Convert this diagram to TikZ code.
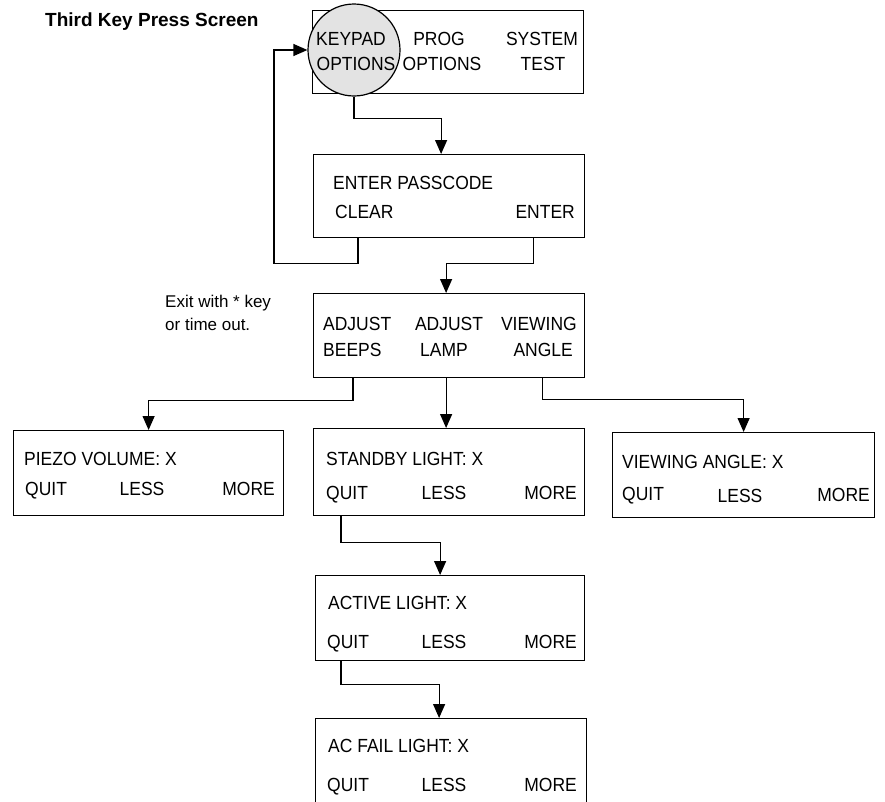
\documentclass[tikz,border=0pt]{standalone}
\usepackage{fontspec}
\setmainfont{Liberation Sans}
\newfontfamily\scrfont[FakeStretch=0.92]{Liberation Sans}
\usetikzlibrary{arrows.meta}
\begin{document}
\begin{tikzpicture}[x=1pt,y=-1pt,
  scr/.style={draw, line width=1.2pt, rectangle, anchor=north west, minimum width=271pt, minimum height=85pt, inner sep=0pt},
  lbl/.style={inner sep=0pt, font=\scrfont\fontsize{19}{22}\selectfont},
  arr/.style={line width=1.2pt, -{Triangle[length=14pt,width=12pt]}},
  ln/.style={line width=1.2pt}]
\useasboundingbox (0,0) rectangle (885,801);
% title and note
\node[inner sep=0pt, anchor=base west, font=\bfseries\fontsize{19}{22}\selectfont] (title) at (45,26) {Third Key Press Screen};
\node[inner sep=0pt, anchor=base west, font=\fontsize{17}{22}\selectfont] (note1) at (165,307) {Exit with * key};
\node[inner sep=0pt, anchor=base west, font=\fontsize{17}{22}\selectfont] (note2) at (165,330) {or time out.};
% top box
\node[scr, minimum height=83pt] (b1) at (312,10) {};
\node[circle, draw, line width=1.2pt, fill=gray!22, minimum size=92pt, inner sep=0pt] (circ) at (354,50) {};
\node[lbl, anchor=base] (k1) at (351,45) {KEYPAD};
\node[lbl, anchor=base] (k2) at (356,70) {OPTIONS};
\node[lbl, anchor=base] (p1) at (439,45) {PROG};
\node[lbl, anchor=base] (p2) at (442,70) {OPTIONS};
\node[lbl, anchor=base] (s1) at (542,45) {SYSTEM};
\node[lbl, anchor=base] (s2) at (543,70) {TEST};
% passcode box
\node[scr, minimum height=83pt] (b2) at (313,154) {};
\node[lbl, anchor=base west] (e1) at (333,189) {ENTER PASSCODE};
\node[lbl, anchor=base west] (e2) at (335,218) {CLEAR};
\node[lbl, anchor=base east] (e3) at (575,218) {ENTER};
% adjust box
\node[scr, minimum height=84pt] (b3) at (313,293) {};
\node[lbl, anchor=base west] (a1) at (323,330) {ADJUST};
\node[lbl, anchor=base west] (a2) at (323,356) {BEEPS};
\node[lbl, anchor=base] (a3) at (449,330) {ADJUST};
\node[lbl, anchor=base] (a4) at (444,356) {LAMP};
\node[lbl, anchor=base east] (a5) at (577,330) {VIEWING};
\node[lbl, anchor=base east] (a6) at (573,356) {ANGLE};
% piezo
\node[scr, minimum width=270pt] (piezo) at (13,430) {};
\node[lbl, anchor=base west] (pz1) at (24,465) {PIEZO VOLUME: X};
\node[lbl, anchor=base west] (pz2) at (25,495) {QUIT};
\node[lbl, anchor=base] (pz3) at (142,495) {LESS};
\node[lbl, anchor=base east] (pz4) at (275,495) {MORE};
% standby
\node[scr, minimum height=87pt] (standby) at (313,428) {};
\node[lbl, anchor=base west] (sb1) at (326,465) {STANDBY LIGHT: X};
\node[lbl, anchor=base west] (sb2) at (326,499) {QUIT};
\node[lbl, anchor=base] (sb3) at (444,499) {LESS};
\node[lbl, anchor=base east] (sb4) at (577,499) {MORE};
% viewing
\node[scr, minimum width=262pt] (viewing) at (612,432) {};
\node[lbl, anchor=base west] (vw1) at (622,468) {VIEWING ANGLE: X};
\node[lbl, anchor=base west] (vw2) at (622,500) {QUIT};
\node[lbl, anchor=base] (vw3) at (740,502) {LESS};
\node[lbl, anchor=base east] (vw4) at (870,501) {MORE};
% active
\node[scr, minimum width=269pt] (active) at (315,575) {};
\node[lbl, anchor=base west] (ac1) at (328,609) {ACTIVE LIGHT: X};
\node[lbl, anchor=base west] (ac2) at (327,648) {QUIT};
\node[lbl, anchor=base] (ac3) at (444,648) {LESS};
\node[lbl, anchor=base east] (ac4) at (577,648) {MORE};
% ac fail
\node[scr, minimum height=110pt] (acfail) at (315,718) {};
\node[lbl, anchor=base west] (af1) at (328,752) {AC FAIL LIGHT: X};
\node[lbl, anchor=base west] (af2) at (327,791) {QUIT};
\node[lbl, anchor=base] (af3) at (444,791) {LESS};
\node[lbl, anchor=base east] (af4) at (577,791) {MORE};
% connectors
\coordinate (loopc) at (274,50);
\draw[arr] (circ.south) -- ++(0,22) -| ([xshift=-8pt]b2.north);
\draw[arr] ([xshift=45pt]b2.south west) -- ++(0,25) -| (loopc) -- (circ.west);
\draw[arr] ([xshift=-52pt]b2.south east) -- ++(0,25) -| ([xshift=-3pt]b3.north);
\draw[arr] ([xshift=40pt]b3.south west) -- ++(0,22) -| (piezo.north);
\draw[arr] ([xshift=-3pt]b3.south) -- ([xshift=-3pt]standby.north);
\draw[arr] ([xshift=-43pt]b3.south east) -- ++(0,21) -| (viewing.north);
\draw[arr] ([xshift=28pt]standby.south west) -- ++(0,26) -| ([xshift=-10pt]active.north);
\draw[arr] ([xshift=26pt]active.south west) -- ++(0,23) -| ([xshift=-12pt]acfail.north);
\end{tikzpicture}
\end{document}
